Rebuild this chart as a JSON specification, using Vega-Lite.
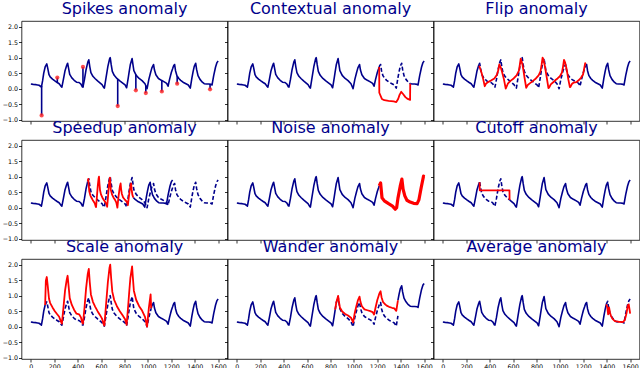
{
"$schema": "https://vega.github.io/schema/vega-lite/v6.json",
"background": "white",
"padding": {"left": 1.5, "top": 0, "right": 0, "bottom": 0},
"bounds": "flush",
"columns": 3,
"spacing": {"row": 19, "column": 0},
"config": {
  "view": {"stroke": "black", "strokeWidth": 0.8},
  "axis": {"domain": false, "grid": false, "ticks": true, "tickColor": "black", "tickSize": 3, "tickWidth": 0.8, "labelFontSize": 6.3, "labelFont": "DejaVu Sans", "labelColor": "black", "labelPadding": 1, "labelFlush": false, "title": null},
  "title": {"fontSize": 16, "font": "DejaVu Sans", "fontWeight": "normal", "color": "#00008b", "offset": 4.5, "baseline": "alphabetic", "anchor": "middle"},
  "line": {"strokeWidth": 1.6, "color": "#00008b", "strokeJoin": "round"}
},
"datasets": {
  "base": [{"x":0,"y":0.15},{"x":20,"y":0.14},{"x":45,"y":0.13},{"x":70,"y":0.11},{"x":82,"y":0.08},{"x":90,"y":0.05},{"x":100,"y":0.25},{"x":110,"y":0.5},{"x":122,"y":0.7},{"x":136,"y":0.8},{"x":144,"y":0.66},{"x":155,"y":0.45},{"x":165,"y":0.38},{"x":185,"y":0.31},{"x":205,"y":0.25},{"x":225,"y":0.2},{"x":242,"y":0.16},{"x":255,"y":0.09},{"x":265,"y":0.05},{"x":278,"y":0.3},{"x":292,"y":0.58},{"x":305,"y":0.74},{"x":310,"y":0.79},{"x":314,"y":0.82},{"x":322,"y":0.66},{"x":332,"y":0.46},{"x":350,"y":0.35},{"x":370,"y":0.27},{"x":390,"y":0.21},{"x":412,"y":0.2},{"x":428,"y":0.15},{"x":440,"y":0.06},{"x":445,"y":0.05},{"x":458,"y":0.3},{"x":472,"y":0.62},{"x":486,"y":0.85},{"x":495,"y":0.93},{"x":503,"y":0.72},{"x":513,"y":0.52},{"x":530,"y":0.4},{"x":550,"y":0.32},{"x":570,"y":0.25},{"x":590,"y":0.19},{"x":608,"y":0.13},{"x":622,"y":0.04},{"x":628,"y":0.02},{"x":642,"y":0.35},{"x":658,"y":0.72},{"x":672,"y":0.95},{"x":678,"y":1.0},{"x":686,"y":0.78},{"x":696,"y":0.56},{"x":712,"y":0.43},{"x":735,"y":0.33},{"x":760,"y":0.25},{"x":785,"y":0.18},{"x":805,"y":0.12},{"x":818,"y":0.03},{"x":832,"y":0.35},{"x":840,"y":0.55},{"x":850,"y":0.78},{"x":865,"y":0.97},{"x":872,"y":0.78},{"x":880,"y":0.58},{"x":900,"y":0.43},{"x":925,"y":0.33},{"x":950,"y":0.26},{"x":975,"y":0.16},{"x":993,"y":0.0},{"x":1008,"y":0.3},{"x":1023,"y":0.52},{"x":1028,"y":0.59},{"x":1035,"y":0.68},{"x":1048,"y":0.78},{"x":1056,"y":0.6},{"x":1068,"y":0.45},{"x":1090,"y":0.33},{"x":1115,"y":0.27},{"x":1140,"y":0.22},{"x":1160,"y":0.17},{"x":1172,"y":0.08},{"x":1185,"y":0.3},{"x":1200,"y":0.52},{"x":1211,"y":0.64},{"x":1216,"y":0.7},{"x":1220,"y":0.74},{"x":1228,"y":0.78},{"x":1236,"y":0.58},{"x":1248,"y":0.42},{"x":1264,"y":0.33},{"x":1280,"y":0.27},{"x":1300,"y":0.21},{"x":1325,"y":0.16},{"x":1345,"y":0.12},{"x":1362,"y":0.02},{"x":1376,"y":0.35},{"x":1386,"y":0.55},{"x":1396,"y":0.72},{"x":1408,"y":0.82},{"x":1416,"y":0.62},{"x":1428,"y":0.42},{"x":1445,"y":0.3},{"x":1465,"y":0.21},{"x":1481,"y":0.16},{"x":1500,"y":0.15},{"x":1520,"y":0.15},{"x":1540,"y":0.14},{"x":1548,"y":0.12},{"x":1562,"y":0.42},{"x":1578,"y":0.7},{"x":1590,"y":0.84},{"x":1600,"y":0.89}],
  "spikes": [{"x":92,"y":-0.86,"y0":0.09},{"x":226,"y":0.36,"y0":0.2},{"x":445,"y":0.7,"y0":0.05},{"x":742,"y":-0.56,"y0":0.31},{"x":897,"y":-0.05,"y0":0.45},{"x":982,"y":-0.14,"y0":0.1},{"x":1119,"y":-0.09,"y0":0.26},{"x":1250,"y":0.16,"y0":0.41},{"x":1531,"y":-0.02,"y0":0.15}],
  "contextual": [{"x":1216,"y":0.7},{"x":1217,"y":-0.13},{"x":1239,"y":-0.33},{"x":1260,"y":-0.37},{"x":1296,"y":-0.39},{"x":1340,"y":-0.41},{"x":1362,"y":-0.43},{"x":1378,"y":-0.33},{"x":1390,"y":-0.2},{"x":1404,"y":-0.1},{"x":1420,"y":-0.17},{"x":1440,"y":-0.27},{"x":1460,"y":-0.33},{"x":1480,"y":-0.36},{"x":1481,"y":0.16}],
  "flip": [{"x":310,"y":0.74},{"x":314,"y":0.7},{"x":319,"y":0.64},{"x":330,"y":0.52},{"x":345,"y":0.3},{"x":358,"y":0.08},{"x":370,"y":0.17},{"x":390,"y":0.22},{"x":415,"y":0.27},{"x":440,"y":0.33},{"x":462,"y":0.45},{"x":474,"y":0.6},{"x":482,"y":0.78},{"x":495,"y":0.68},{"x":507,"y":0.52},{"x":522,"y":0.3},{"x":537,"y":0.0},{"x":555,"y":0.16},{"x":580,"y":0.26},{"x":605,"y":0.33},{"x":630,"y":0.43},{"x":650,"y":0.58},{"x":658,"y":0.78},{"x":665,"y":0.97},{"x":680,"y":0.78},{"x":690,"y":0.55},{"x":698,"y":0.35},{"x":712,"y":0.03},{"x":725,"y":0.12},{"x":745,"y":0.18},{"x":770,"y":0.25},{"x":795,"y":0.33},{"x":818,"y":0.43},{"x":834,"y":0.56},{"x":844,"y":0.78},{"x":852,"y":1.0},{"x":858,"y":0.95},{"x":872,"y":0.72},{"x":888,"y":0.35},{"x":902,"y":0.02},{"x":908,"y":0.04},{"x":922,"y":0.14},{"x":940,"y":0.2},{"x":960,"y":0.27},{"x":980,"y":0.33},{"x":1000,"y":0.4},{"x":1017,"y":0.52},{"x":1027,"y":0.72},{"x":1035,"y":0.93},{"x":1044,"y":0.85},{"x":1058,"y":0.62},{"x":1072,"y":0.3},{"x":1085,"y":0.05},{"x":1090,"y":0.06},{"x":1102,"y":0.15},{"x":1118,"y":0.2},{"x":1140,"y":0.21},{"x":1160,"y":0.27},{"x":1180,"y":0.35},{"x":1198,"y":0.46},{"x":1208,"y":0.66},{"x":1216,"y":0.82},{"x":1220,"y":0.79}],
  "speedup": [{"x":486,"y":0.85},{"x":490.5,"y":0.93},{"x":494.5,"y":0.72},{"x":499.5,"y":0.52},{"x":508,"y":0.4},{"x":518,"y":0.32},{"x":528,"y":0.25},{"x":538,"y":0.19},{"x":547,"y":0.13},{"x":554,"y":0.04},{"x":557,"y":0.02},{"x":564,"y":0.35},{"x":572,"y":0.72},{"x":579,"y":0.95},{"x":582,"y":1.0},{"x":586,"y":0.78},{"x":591,"y":0.56},{"x":599,"y":0.43},{"x":610.5,"y":0.33},{"x":623,"y":0.25},{"x":635.5,"y":0.18},{"x":645.5,"y":0.12},{"x":652,"y":0.03},{"x":659,"y":0.35},{"x":663,"y":0.55},{"x":668,"y":0.78},{"x":675.5,"y":0.97},{"x":679,"y":0.78},{"x":683,"y":0.58},{"x":693,"y":0.43},{"x":705.5,"y":0.33},{"x":718,"y":0.26},{"x":730.5,"y":0.16},{"x":739.5,"y":0.0},{"x":747,"y":0.3},{"x":754.5,"y":0.52},{"x":760.5,"y":0.68},{"x":767,"y":0.78},{"x":771,"y":0.6},{"x":777,"y":0.45},{"x":788,"y":0.33},{"x":800.5,"y":0.27},{"x":813,"y":0.22},{"x":823,"y":0.17},{"x":829,"y":0.08},{"x":835.5,"y":0.3},{"x":843,"y":0.52},{"x":848.5,"y":0.64},{"x":851,"y":0.7},{"x":853,"y":0.74},{"x":857,"y":0.78},{"x":861,"y":0.58},{"x":867,"y":0.42},{"x":875,"y":0.33}],
  "speedupPost": [{"x":875,"y":0.33},{"x":891,"y":0.27},{"x":911,"y":0.21},{"x":936,"y":0.16},{"x":956,"y":0.12},{"x":973,"y":0.02},{"x":987,"y":0.35},{"x":997,"y":0.55},{"x":1007,"y":0.72},{"x":1019,"y":0.82},{"x":1027,"y":0.62},{"x":1039,"y":0.42},{"x":1056,"y":0.3},{"x":1076,"y":0.21},{"x":1092,"y":0.16},{"x":1111,"y":0.15},{"x":1131,"y":0.15},{"x":1151,"y":0.14},{"x":1159,"y":0.12},{"x":1173,"y":0.42},{"x":1189,"y":0.7},{"x":1201,"y":0.84},{"x":1211,"y":0.89}],
  "noise": [{"x":1216,"y":0.7},{"x":1228,"y":0.8},{"x":1240,"y":0.32},{"x":1260,"y":0.22},{"x":1296,"y":0.13},{"x":1330,"y":0.05},{"x":1353,"y":-0.05},{"x":1365,"y":0.0},{"x":1376,"y":0.3},{"x":1396,"y":0.7},{"x":1410,"y":0.92},{"x":1420,"y":0.6},{"x":1435,"y":0.38},{"x":1453,"y":0.24},{"x":1480,"y":0.18},{"x":1510,"y":0.14},{"x":1540,"y":0.13},{"x":1555,"y":0.25},{"x":1575,"y":0.65},{"x":1595,"y":1.02},{"x":1600,"y":1.0}],
  "cutoff": [{"x":314,"y":0.82},{"x":315,"y":0.56},{"x":569,"y":0.56},{"x":570,"y":0.25}],
  "scale": [{"x":122,"y":0.7},{"x":128,"y":1.48},{"x":136,"y":1.6},{"x":144,"y":1.32},{"x":155,"y":0.9},{"x":165,"y":0.76},{"x":185,"y":0.62},{"x":205,"y":0.5},{"x":225,"y":0.4},{"x":242,"y":0.32},{"x":255,"y":0.18},{"x":265,"y":0.1},{"x":278,"y":0.6},{"x":292,"y":1.16},{"x":305,"y":1.48},{"x":310,"y":1.58},{"x":314,"y":1.64},{"x":322,"y":1.32},{"x":332,"y":0.92},{"x":350,"y":0.7},{"x":370,"y":0.54},{"x":390,"y":0.42},{"x":412,"y":0.4},{"x":428,"y":0.3},{"x":440,"y":0.12},{"x":445,"y":0.1},{"x":458,"y":0.6},{"x":472,"y":1.24},{"x":486,"y":1.7},{"x":495,"y":1.86},{"x":503,"y":1.44},{"x":513,"y":1.04},{"x":530,"y":0.8},{"x":550,"y":0.64},{"x":570,"y":0.5},{"x":590,"y":0.38},{"x":608,"y":0.26},{"x":622,"y":0.08},{"x":628,"y":0.04},{"x":642,"y":0.7},{"x":658,"y":1.44},{"x":672,"y":1.9},{"x":678,"y":2.0},{"x":686,"y":1.56},{"x":696,"y":1.12},{"x":712,"y":0.86},{"x":735,"y":0.66},{"x":760,"y":0.5},{"x":785,"y":0.36},{"x":805,"y":0.24},{"x":818,"y":0.06},{"x":832,"y":0.7},{"x":840,"y":1.1},{"x":850,"y":1.56},{"x":865,"y":1.94},{"x":872,"y":1.56},{"x":880,"y":1.16},{"x":900,"y":0.86},{"x":925,"y":0.66},{"x":950,"y":0.52},{"x":975,"y":0.32},{"x":993,"y":0.0},{"x":1008,"y":0.6},{"x":1023,"y":1.04},{"x":1028,"y":0.59}],
  "wander": [{"x":840,"y":0.55},{"x":850,"y":0.79},{"x":865,"y":0.99},{"x":872,"y":0.81},{"x":880,"y":0.62},{"x":900,"y":0.49},{"x":925,"y":0.41},{"x":950,"y":0.36},{"x":975,"y":0.29},{"x":993,"y":0.14},{"x":1008,"y":0.46},{"x":1023,"y":0.69},{"x":1035,"y":0.86},{"x":1048,"y":0.97},{"x":1056,"y":0.8},{"x":1068,"y":0.66},{"x":1090,"y":0.56},{"x":1115,"y":0.53},{"x":1140,"y":0.5},{"x":1160,"y":0.47},{"x":1172,"y":0.39},{"x":1185,"y":0.62},{"x":1200,"y":0.86},{"x":1211,"y":0.99},{"x":1216,"y":1.05},{"x":1220,"y":1.09},{"x":1228,"y":1.14},{"x":1236,"y":0.95},{"x":1248,"y":0.8},{"x":1264,"y":0.73},{"x":1280,"y":0.68},{"x":1300,"y":0.64},{"x":1325,"y":0.61},{"x":1345,"y":0.59},{"x":1362,"y":0.51},{"x":1376,"y":0.85}],
  "wanderPost": [{"x":1376,"y":0.85},{"x":1386,"y":1.05},{"x":1396,"y":1.22},{"x":1408,"y":1.32},{"x":1416,"y":1.12},{"x":1428,"y":0.92},{"x":1445,"y":0.8},{"x":1465,"y":0.71},{"x":1481,"y":0.66},{"x":1500,"y":0.65},{"x":1520,"y":0.65},{"x":1540,"y":0.64},{"x":1548,"y":0.62},{"x":1562,"y":0.92},{"x":1578,"y":1.2},{"x":1590,"y":1.34},{"x":1600,"y":1.39}],
  "average": [{"x":1396,"y":0.72},{"x":1405,"y":0.62},{"x":1412,"y":0.4},{"x":1420,"y":0.62},{"x":1428,"y":0.45},{"x":1436,"y":0.35},{"x":1450,"y":0.25},{"x":1470,"y":0.18},{"x":1500,"y":0.16},{"x":1540,"y":0.15},{"x":1555,"y":0.22},{"x":1570,"y":0.45},{"x":1580,"y":0.68},{"x":1588,"y":0.72},{"x":1595,"y":0.55},{"x":1600,"y":0.42}]
},
"concat": [
  {"title": "Spikes anomaly", "width": 206, "height": 100,
   "encoding": {"x": {"field": "x", "type": "quantitative", "scale": {"domain": [-80, 1680], "nice": false, "zero": false}, "axis": {"values": [0,200,400,600,800,1000,1200,1400,1600], "labels": false}},
                "y": {"field": "y", "type": "quantitative", "scale": {"domain": [-1.04, 2.18], "nice": false, "zero": false}, "axis": {"values": [-1,-0.5,0,0.5,1,1.5,2], "format": ".1f", "labels": true}}},
   "layer": [
     {"data": {"name": "base"}, "mark": {"type": "line"}, "encoding": {}},
     {"data": {"name": "spikes"}, "mark": {"type": "rule", "color": "#00008b", "strokeWidth": 1.6}, "encoding": {"y2": {"field": "y0"}}},
     {"data": {"name": "spikes"}, "mark": {"type": "circle", "color": "#ff2020", "opacity": 0.8, "size": 18}, "encoding": {}}
   ]},
  {"title": "Contextual anomaly", "width": 206, "height": 100,
   "encoding": {"x": {"field": "x", "type": "quantitative", "scale": {"domain": [-80, 1680], "nice": false, "zero": false}, "axis": {"values": [0,200,400,600,800,1000,1200,1400,1600], "labels": false}},
                "y": {"field": "y", "type": "quantitative", "scale": {"domain": [-1.04, 2.18], "nice": false, "zero": false}, "axis": {"values": [-1,-0.5,0,0.5,1,1.5,2], "labels": false}}},
   "layer": [
     {"data": {"name": "base"}, "transform": [{"filter": "datum.x <= 1216"}], "mark": {"type": "line"}, "encoding": {}},
     {"data": {"name": "base"}, "transform": [{"filter": "datum.x >= 1216 && datum.x <= 1481"}], "mark": {"type": "line", "strokeDash": [4, 2.2]}, "encoding": {}},
     {"data": {"name": "base"}, "transform": [{"filter": "datum.x >= 1481"}], "mark": {"type": "line"}, "encoding": {}},
     {"data": {"name": "contextual"}, "mark": {"type": "line", "color": "#ff0000", "strokeWidth": 1.8}, "encoding": {}}
   ]},
  {"title": "Flip anomaly", "width": 206, "height": 100,
   "encoding": {"x": {"field": "x", "type": "quantitative", "scale": {"domain": [-80, 1680], "nice": false, "zero": false}, "axis": {"values": [0,200,400,600,800,1000,1200,1400,1600], "labels": false}},
                "y": {"field": "y", "type": "quantitative", "scale": {"domain": [-1.04, 2.18], "nice": false, "zero": false}, "axis": {"values": [-1,-0.5,0,0.5,1,1.5,2], "labels": false}}},
   "layer": [
     {"data": {"name": "base"}, "transform": [{"filter": "datum.x <= 310"}], "mark": {"type": "line"}, "encoding": {}},
     {"data": {"name": "base"}, "transform": [{"filter": "datum.x >= 310 && datum.x <= 1220"}], "mark": {"type": "line", "strokeDash": [4, 2.2]}, "encoding": {}},
     {"data": {"name": "base"}, "transform": [{"filter": "datum.x >= 1220"}], "mark": {"type": "line"}, "encoding": {}},
     {"data": {"name": "flip"}, "mark": {"type": "line", "color": "#ff0000", "strokeWidth": 1.8}, "encoding": {}}
   ]},
  {"title": "Speedup anomaly", "width": 206, "height": 100,
   "encoding": {"x": {"field": "x", "type": "quantitative", "scale": {"domain": [-80, 1680], "nice": false, "zero": false}, "axis": {"values": [0,200,400,600,800,1000,1200,1400,1600], "labels": false}},
                "y": {"field": "y", "type": "quantitative", "scale": {"domain": [-1.04, 2.18], "nice": false, "zero": false}, "axis": {"values": [-1,-0.5,0,0.5,1,1.5,2], "format": ".1f", "labels": true}}},
   "layer": [
     {"data": {"name": "base"}, "transform": [{"filter": "datum.x <= 486"}], "mark": {"type": "line"}, "encoding": {}},
     {"data": {"name": "base"}, "transform": [{"filter": "datum.x >= 486"}], "mark": {"type": "line", "strokeDash": [4, 2.2]}, "encoding": {}},
     {"data": {"name": "speedupPost"}, "mark": {"type": "line"}, "encoding": {}},
     {"data": {"name": "speedup"}, "mark": {"type": "line", "color": "#ff0000", "strokeWidth": 1.8}, "encoding": {}}
   ]},
  {"title": "Noise anomaly", "width": 206, "height": 100,
   "encoding": {"x": {"field": "x", "type": "quantitative", "scale": {"domain": [-80, 1680], "nice": false, "zero": false}, "axis": {"values": [0,200,400,600,800,1000,1200,1400,1600], "labels": false}},
                "y": {"field": "y", "type": "quantitative", "scale": {"domain": [-1.04, 2.18], "nice": false, "zero": false}, "axis": {"values": [-1,-0.5,0,0.5,1,1.5,2], "labels": false}}},
   "layer": [
     {"data": {"name": "base"}, "transform": [{"filter": "datum.x <= 1216"}], "mark": {"type": "line"}, "encoding": {}},
     {"data": {"name": "noise"}, "mark": {"type": "line", "color": "#ff0000", "strokeWidth": 3.2}, "encoding": {}}
   ]},
  {"title": "Cutoff anomaly", "width": 206, "height": 100,
   "encoding": {"x": {"field": "x", "type": "quantitative", "scale": {"domain": [-80, 1680], "nice": false, "zero": false}, "axis": {"values": [0,200,400,600,800,1000,1200,1400,1600], "labels": false}},
                "y": {"field": "y", "type": "quantitative", "scale": {"domain": [-1.04, 2.18], "nice": false, "zero": false}, "axis": {"values": [-1,-0.5,0,0.5,1,1.5,2], "labels": false}}},
   "layer": [
     {"data": {"name": "base"}, "transform": [{"filter": "datum.x <= 314"}], "mark": {"type": "line"}, "encoding": {}},
     {"data": {"name": "base"}, "transform": [{"filter": "datum.x >= 314 && datum.x <= 570"}], "mark": {"type": "line", "strokeDash": [4, 2.2]}, "encoding": {}},
     {"data": {"name": "base"}, "transform": [{"filter": "datum.x >= 570"}], "mark": {"type": "line"}, "encoding": {}},
     {"data": {"name": "cutoff"}, "mark": {"type": "line", "color": "#ff0000", "strokeWidth": 1.8}, "encoding": {}}
   ]},
  {"title": "Scale anomaly", "width": 206, "height": 100,
   "encoding": {"x": {"field": "x", "type": "quantitative", "scale": {"domain": [-80, 1680], "nice": false, "zero": false}, "axis": {"values": [0,200,400,600,800,1000,1200,1400,1600], "format": "d", "labels": true}},
                "y": {"field": "y", "type": "quantitative", "scale": {"domain": [-1.04, 2.18], "nice": false, "zero": false}, "axis": {"values": [-1,-0.5,0,0.5,1,1.5,2], "format": ".1f", "labels": true}}},
   "layer": [
     {"data": {"name": "base"}, "transform": [{"filter": "datum.x <= 122"}], "mark": {"type": "line"}, "encoding": {}},
     {"data": {"name": "base"}, "transform": [{"filter": "datum.x >= 122 && datum.x <= 1028"}], "mark": {"type": "line", "strokeDash": [4, 2.2]}, "encoding": {}},
     {"data": {"name": "base"}, "transform": [{"filter": "datum.x >= 1028"}], "mark": {"type": "line"}, "encoding": {}},
     {"data": {"name": "scale"}, "mark": {"type": "line", "color": "#ff0000", "strokeWidth": 1.8}, "encoding": {}}
   ]},
  {"title": "Wander anomaly", "width": 206, "height": 100,
   "encoding": {"x": {"field": "x", "type": "quantitative", "scale": {"domain": [-80, 1680], "nice": false, "zero": false}, "axis": {"values": [0,200,400,600,800,1000,1200,1400,1600], "format": "d", "labels": true}},
                "y": {"field": "y", "type": "quantitative", "scale": {"domain": [-1.04, 2.18], "nice": false, "zero": false}, "axis": {"values": [-1,-0.5,0,0.5,1,1.5,2], "labels": false}}},
   "layer": [
     {"data": {"name": "base"}, "transform": [{"filter": "datum.x <= 840"}], "mark": {"type": "line"}, "encoding": {}},
     {"data": {"name": "base"}, "transform": [{"filter": "datum.x >= 840 && datum.x <= 1376"}], "mark": {"type": "line", "strokeDash": [4, 2.2]}, "encoding": {}},
     {"data": {"name": "wanderPost"}, "mark": {"type": "line"}, "encoding": {}},
     {"data": {"name": "wander"}, "mark": {"type": "line", "color": "#ff0000", "strokeWidth": 1.8}, "encoding": {}}
   ]},
  {"title": "Average anomaly", "width": 206, "height": 100,
   "encoding": {"x": {"field": "x", "type": "quantitative", "scale": {"domain": [-80, 1680], "nice": false, "zero": false}, "axis": {"values": [0,200,400,600,800,1000,1200,1400,1600], "format": "d", "labels": true}},
                "y": {"field": "y", "type": "quantitative", "scale": {"domain": [-1.04, 2.18], "nice": false, "zero": false}, "axis": {"values": [-1,-0.5,0,0.5,1,1.5,2], "labels": false}}},
   "layer": [
     {"data": {"name": "base"}, "transform": [{"filter": "datum.x <= 1396"}], "mark": {"type": "line"}, "encoding": {}},
     {"data": {"name": "base"}, "transform": [{"filter": "datum.x >= 1396"}], "mark": {"type": "line", "strokeDash": [4, 2.2]}, "encoding": {}},
     {"data": {"name": "average"}, "mark": {"type": "line", "color": "#ff0000", "strokeWidth": 1.8}, "encoding": {}}
   ]}
]
}
